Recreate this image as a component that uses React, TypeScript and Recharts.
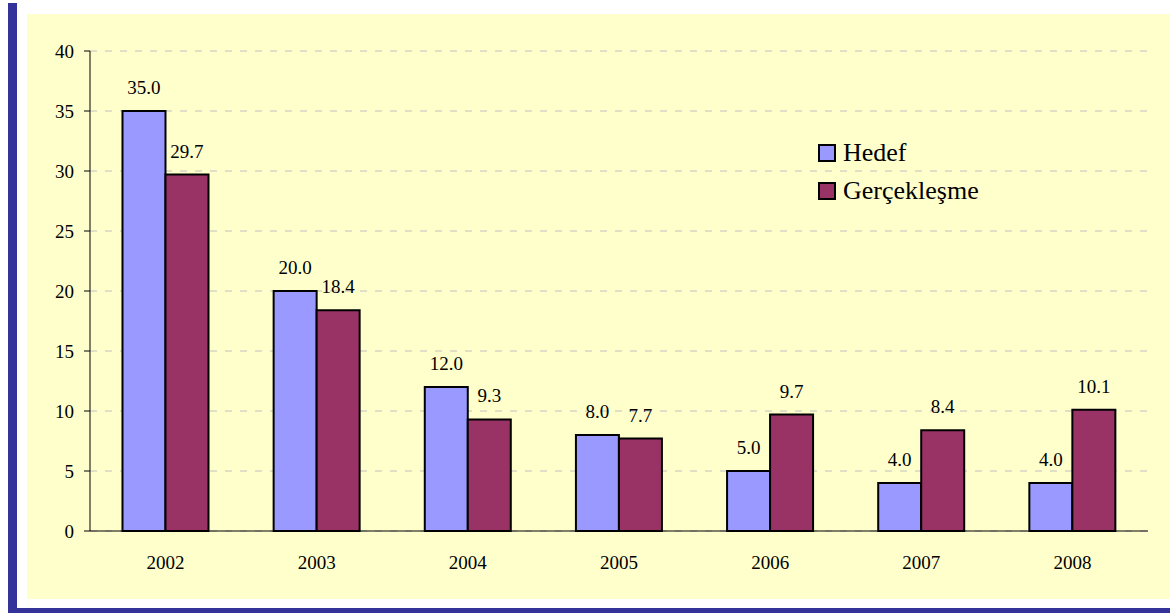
import { BarChart, Bar, XAxis, YAxis, CartesianGrid, Legend, LabelList } from 'recharts'

const years = ['2002', '2003', '2004', '2005', '2006', '2007', '2008']
const hedef = [35, 20, 12, 8, 5, 4, 4]
const gerceklesme = [29.7, 18.4, 9.3, 7.7, 9.7, 8.4, 10.1]
const yTicks = [0, 5, 10, 15, 20, 25, 30, 35, 40]
const edgeTicks = [0, 1, 2, 3, 4, 5, 6, 7]
const seriesOrder = ['hedef', 'gerceklesme']

const data = years.map((year, i) => ({ year, hedef: hedef[i], gerceklesme: gerceklesme[i] }))

const FONT = "'Liberation Serif', 'Times New Roman', serif"

function YearTick({ x, y, payload }: any) {
  return (
    <text x={x} y={y} dy={23} textAnchor="middle" fill="#000" fontSize={19} style={{ fontFamily: FONT }}>
      {payload.value}
    </text>
  )
}

function LegendBox({ payload }: any) {
  const items = [...(payload || [])].sort(
    (a: any, b: any) => seriesOrder.indexOf(a.dataKey) - seriesOrder.indexOf(b.dataKey)
  )
  return (
    <div style={{ fontFamily: FONT, fontSize: 26, color: '#000' }}>
      {items.map((entry: any) => (
        <div key={entry.value} style={{ display: 'flex', alignItems: 'center', height: 38 }}>
          <span
            style={{
              display: 'inline-block',
              width: 14,
              height: 14,
              border: '2px solid #000',
              background: entry.color,
              marginRight: 7,
            }}
          />
          <span style={{ lineHeight: '38px', fontFamily: FONT }}>{entry.value}</span>
        </div>
      ))}
    </div>
  )
}

const labelProps = {
  position: 'top' as const,
  offset: 17,
  formatter: (v: any) => Number(v).toFixed(1),
  fill: '#000',
  fontSize: 19,
  style: { fontFamily: FONT },
}

export default function App() {
  return (
    <div style={{ fontFamily: FONT }}>
      <div
        style={{
          position: 'fixed',
          left: 8,
          top: 3,
          width: 1162,
          height: 610,
          background: '#fff',
          borderLeft: '9px solid #333399',
          borderBottom: '5px solid #333399',
          boxSizing: 'border-box',
        }}
      />
      <div style={{ position: 'fixed', left: 27, top: 14, width: 1143, height: 585, background: '#FFFFCC' }}>
        <BarChart
          width={1143}
          height={585}
          data={data}
          margin={{ top: 37, right: 22, left: 0, bottom: 0 }}
          barCategoryGap="21.5%"
          barGap={0}
          style={{ fontFamily: FONT }}
        >
          <CartesianGrid xAxisId="b" vertical={false} stroke="#c0c0c0" strokeDasharray="7 8" />
          <XAxis
            xAxisId="b"
            dataKey="year"
            axisLine={false}
            tickLine={false}
            height={61}
            tick={<YearTick />}
            interval={0}
          />
          <XAxis
            xAxisId="a"
            type="number"
            domain={[0, 7]}
            ticks={edgeTicks}
            tick={false}
            tickSize={7}
            height={7}
            axisLine={{ stroke: '#000' }}
            tickLine={{ stroke: '#000' }}
          />
          <YAxis
            width={63}
            domain={[0, 40]}
            ticks={yTicks}
            interval={0}
            tickSize={6}
            tickMargin={10}
            axisLine={{ stroke: '#000' }}
            tickLine={{ stroke: '#000' }}
            tick={{ fill: '#000', fontSize: 19, style: { fontFamily: FONT } }}
          />
          <Legend
            layout="horizontal"
            verticalAlign="middle"
            align="center"
            content={<LegendBox />}
            wrapperStyle={{ position: 'absolute', left: 791, top: 120, width: 'auto' }}
          />
          <Bar xAxisId="b" dataKey="hedef" name="Hedef" fill="#9999FF" stroke="#000" strokeWidth={2} isAnimationActive={false}>
            <LabelList dataKey="hedef" {...labelProps} />
          </Bar>
          <Bar
            xAxisId="b"
            dataKey="gerceklesme"
            name="Gerçekleşme"
            fill="#993366"
            stroke="#000"
            strokeWidth={2}
            isAnimationActive={false}
          >
            <LabelList dataKey="gerceklesme" {...labelProps} />
          </Bar>
        </BarChart>
      </div>
    </div>
  )
}
